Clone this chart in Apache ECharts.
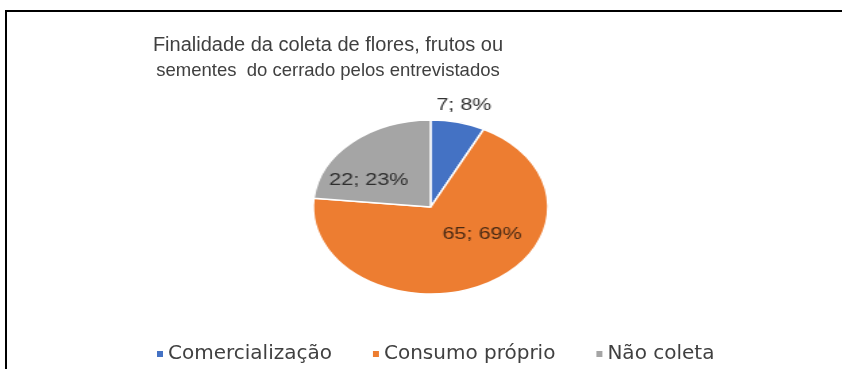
<!DOCTYPE html>
<html>
<head>
<meta charset="utf-8">
<title>Finalidade da coleta</title>
<script src="https://cdn.jsdelivr.net/npm/echarts@6/dist/echarts.min.js"></script>
<style>
html, body { margin: 0; padding: 0; background: #fff; overflow: hidden; }
#frame { position: absolute; left: 5px; top: 10px; width: 900px; height: 420px; border-left: 2px solid #000; border-top: 2px solid #000; }
#main { position: absolute; left: 0; top: 0; width: 842px; height: 369px; }
/* the source picture is stretched sideways: the pie is an ellipse */
#pie { position: absolute; left: 0; top: 0; width: 624px; height: 369px; transform: scaleX(1.35); transform-origin: 0 0; }
</style>
</head>
<body>
<div id="frame"></div>
<div id="main"></div>
<div id="pie"></div>
<script>
/*********** dados ***********/
var categories = ['Comercialização', 'Consumo próprio', 'Não coleta'];
var counts = [7, 65, 22];
var colors = ['#4472C4', '#ED7D31', '#A5A5A5'];

// deslocamento dos rótulos (como o Excel posicionou)
var labelShift = [[-21, -17], [15.7, -12.7], [-14.6, 7.6]];
var labelColors = ['#333333', '#4a2a14', '#2e2e2e'];

var titleLine1 = 'Finalidade da coleta de flores, frutos ou';
var titleLine2 = 'sementes  do cerrado pelos entrevistados';

/*********** título + legenda ***********/
var mainChart = echarts.init(document.getElementById('main'));
mainChart.setOption({
    animation: false,
    title: {
        text: '{a|' + titleLine1 + '}\n{b|' + titleLine2 + '}',
        left: 328,
        top: 32,
        textAlign: 'center',
        padding: 0,
        textStyle: {
            fontFamily: 'Liberation Sans',
            fontSize: 20,
            fontWeight: 'normal',
            color: '#404040',
            lineHeight: 26,
            rich: {
                a: { fontFamily: 'Liberation Sans', fontSize: 20, color: '#404040', lineHeight: 26 },
                b: { fontFamily: 'Liberation Sans', fontSize: 18.5, color: '#404040', lineHeight: 26 }
            }
        }
    },
    legend: {
        data: categories,
        left: 157,
        top: 344,
        padding: 0,
        icon: 'rect',
        itemWidth: 6,
        itemHeight: 6,
        itemGap: 41,
        selectedMode: false,
        textStyle: {
            fontFamily: 'DejaVu Sans',
            fontSize: 20,
            color: '#404040'
        }
    },
    series: [{
        // só para a legenda
        type: 'pie',
        radius: 0,
        center: [430, 207],
        silent: true,
        label: { show: false },
        labelLine: { show: false },
        data: categories.map(function(n, i) {
            return { name: n, value: counts[i], itemStyle: { color: colors[i] } };
        })
    }]
});

/*********** pizza ***********/
var pieChart = echarts.init(document.getElementById('pie'));
pieChart.setOption({
    animation: false,
    series: [{
        type: 'pie',
        center: [319, 207],
        radius: 87,
        startAngle: 90,
        clockwise: true,
        avoidLabelOverlap: false,
        percentPrecision: 0,
        itemStyle: { borderColor: '#fff', borderWidth: 1.5 },
        label: {
            show: true,
            formatter: '{c}; {d}%',
            fontFamily: 'Liberation Sans',
            fontSize: 16
        },
        labelLine: { show: false, length: 0, length2: 0 },
        labelLayout: function(p) {
            var s = labelShift[p.dataIndex];
            return { dx: s[0], dy: s[1] };
        },
        emphasis: { disabled: true },
        data: categories.map(function(n, i) {
            return {
                name: n,
                value: counts[i],
                itemStyle: { color: colors[i] },
                label: { position: i === 0 ? 'outside' : 'inside', color: labelColors[i] }
            };
        })
    }]
});
</script>
</body>
</html>
